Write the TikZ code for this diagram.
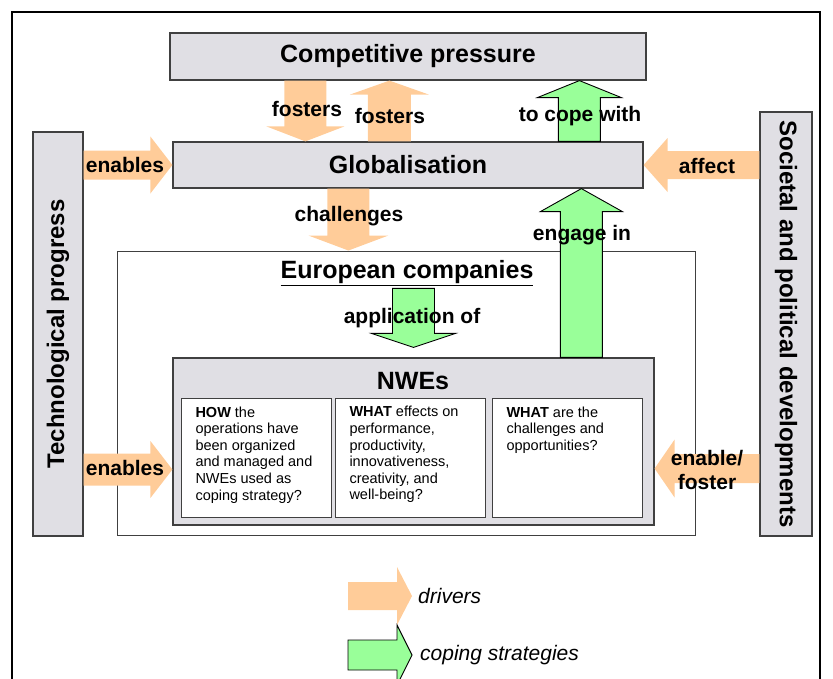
\documentclass[tikz,border=0pt]{standalone}
\usepackage{fontspec}
\setmainfont{Liberation Sans}
\usepackage{tikz}
\usetikzlibrary{calc}
\definecolor{NWEGray}{RGB}{224,223,228}
\definecolor{NWEEdge}{RGB}{64,64,64}
\definecolor{NWEDriver}{RGB}{255,204,153}
\definecolor{NWECoping}{RGB}{153,255,153}

\newcommand{\titlefont}{\fontsize{25}{30}\selectfont\bfseries}
\newcommand{\labelfont}{\fontsize{21}{24}\selectfont\bfseries}
\newcommand{\legendfont}{\fontsize{21}{24}\selectfont\itshape}
\newcommand{\qtext}[1]{\begin{minipage}[c][103pt][t]{122pt}\raggedright\fontsize{14.5}{16.6}\selectfont #1\end{minipage}}

% block arrow: style, from, to, shaft half width, head half width, head length
\newcommand{\blockarrow}[6]{%
  \path[#1] let \p1=(#2), \p2=(#3),
    \n1={veclen(\x2-\x1,\y2-\y1)},
    \n2={(\x2-\x1)/\n1}, \n3={(\y2-\y1)/\n1}
  in ({\x1-#4*\n3},{\y1+#4*\n2})
  -- ({\x2-#6*\n2-#4*\n3},{\y2-#6*\n3+#4*\n2})
  -- ({\x2-#6*\n2-#5*\n3},{\y2-#6*\n3+#5*\n2})
  -- (\x2,\y2)
  -- ({\x2-#6*\n2+#5*\n3},{\y2-#6*\n3-#5*\n2})
  -- ({\x2-#6*\n2+#4*\n3},{\y2-#6*\n3-#4*\n2})
  -- ({\x1+#4*\n3},{\y1-#4*\n2}) -- cycle;}

\begin{document}
\begin{tikzpicture}[x=1pt, y=-1pt,
    gbox/.style={draw=NWEEdge, fill=NWEGray, line width=1.2pt, inner sep=0pt},
    qbox/.style={draw=NWEEdge, fill=white, line width=1pt, inner xsep=14pt, inner ysep=8pt, anchor=north west},
    driver/.style={fill=NWEDriver},
    coping/.style={draw=black, line width=0.9pt, fill=NWECoping},
    lbl/.style={font=\labelfont, inner sep=0pt}]
    \clip (0,0) rectangle (833,678);
    \useasboundingbox (0,0) rectangle (833,678);

    % Frame
    \draw[line width=1.3pt] (12,700) -- (12,12) -- (820,12) -- (820,700);

    % Boxes
    \node[draw=NWEEdge, fill=white, line width=1pt, minimum width=578, minimum height=284] (eu) at (406,393) {};
    \node[gbox, minimum width=476, minimum height=47] (cp) at (408,56.5) {\titlefont Competitive pressure};
    \node[gbox, minimum width=470, minimum height=46] (glob) at (408,165) {\titlefont Globalisation};
    \node[gbox, minimum width=50, minimum height=404] (tech) at (58,334) {};
    \node[rotate=90, font=\fontsize{24}{28}\selectfont\bfseries] (techText) at (tech.center) {Technological progress};
    \node[gbox, minimum width=52, minimum height=424] (soc) at (786,324) {};
    \node[rotate=-90, font=\fontsize{24}{28}\selectfont\bfseries] (socText) at (soc.center) {Societal and political developments};
    \node[gbox, minimum width=481, minimum height=167] (nwe) at (413.5,441.5) {};

    \node (euText) at (407,273) {\titlefont\underline{European companies}};
    \node (nweText) at (413,381) {\titlefont NWEs};

    % Questions
    \node[qbox] (how) at (181,398) {\qtext{\textbf{HOW} the\\ operations have\\ been organized\\ and managed and\\ NWEs used as\\ coping strategy?}};
    \node[qbox] (effects) at (335,398) {\qtext{\textbf{WHAT} effects on\\ performance,\\ productivity,\\ innovativeness,\\ creativity, and\\ well-being?}};
    \node[qbox] (chall) at (492,398) {\qtext{\textbf{WHAT} are the\\ challenges and\\ opportunities?}};

    % Arrow ends
    \coordinate (fosDown) at ($(cp.south west)+(136,0)$);
    \coordinate (fosUp) at ($(cp.south west)+(220,0)$);
    \coordinate (cope) at ($(cp.south west)+(410,0)$);
    \coordinate (chal) at ($(glob.south west)+(176,0)$);
    \coordinate (engage) at ($(nwe.north west)+(409,0)$);
    \coordinate (applA) at ($(nwe.north)+(0,-69)$);
    \coordinate (applB) at ($(nwe.north)+(0,-10)$);
    \coordinate (enB) at ($(nwe.west)+(0,28)$);
    \coordinate (fosterB) at ($(nwe.east)+(0,27)$);

    % Drivers
    \blockarrow{driver}{fosDown}{fosDown |- glob.north}{21}{39}{15}
    \blockarrow{driver}{fosUp |- glob.north}{fosUp}{21.5}{39.5}{14}
    \blockarrow{driver}{chal}{chal |- eu.north}{21}{40}{15}
    \blockarrow{driver}{tech.east |- glob.west}{glob.west}{14.5}{28.5}{22}
    \blockarrow{driver}{tech.east |- enB}{enB}{16}{28.5}{22}
    \blockarrow{driver}{soc.west |- glob.east}{glob.east}{14}{27}{24}
    \blockarrow{driver}{soc.west |- fosterB}{fosterB}{14.5}{29}{20}

    % Coping strategies
    \blockarrow{coping}{cope |- glob.north}{cope}{21}{42}{17}
    \blockarrow{coping}{engage}{engage |- glob.south}{21}{41}{23}
    \blockarrow{coping}{applA}{applB}{21}{42}{14}

    % Labels
    \node[lbl] (lFosDown) at (307,109) {fosters};
    \node[lbl] (lFosUp) at (390,116) {fosters};
    \node[lbl] (lCope) at (580,116) {to cope with};
    \node[lbl] (lChal) at (349,216) {challenges};
    \node[lbl] (lEngage) at (582,235) {engage in};
    \node[lbl] (lAppl) at (412,318) {application of};
    \node[lbl] (lEnA) at (125,165) {enables};
    \node[lbl] (lEnB) at (125,468) {enables};
    \node[lbl] (lAffect) at (707,166) {affect};
    \node[lbl, align=center] (lFoster) at (707,470) {enable/\\foster};

    % Legend
    \coordinate (drvA) at (348,596);
    \coordinate (drvB) at (412,596);
    \coordinate (copA) at (348,655);
    \coordinate (copB) at (412,655);
    \blockarrow{driver}{drvA}{drvB}{14}{29}{15}
    \blockarrow{coping}{copA}{copB}{15}{30}{15}
    \node[font=\legendfont, anchor=west, inner sep=0pt] (lDrivers) at (418,596) {drivers};
    \node[font=\legendfont, anchor=west, inner sep=0pt] (lCoping) at (420,655) {coping strategies};
\end{tikzpicture}
\end{document}
